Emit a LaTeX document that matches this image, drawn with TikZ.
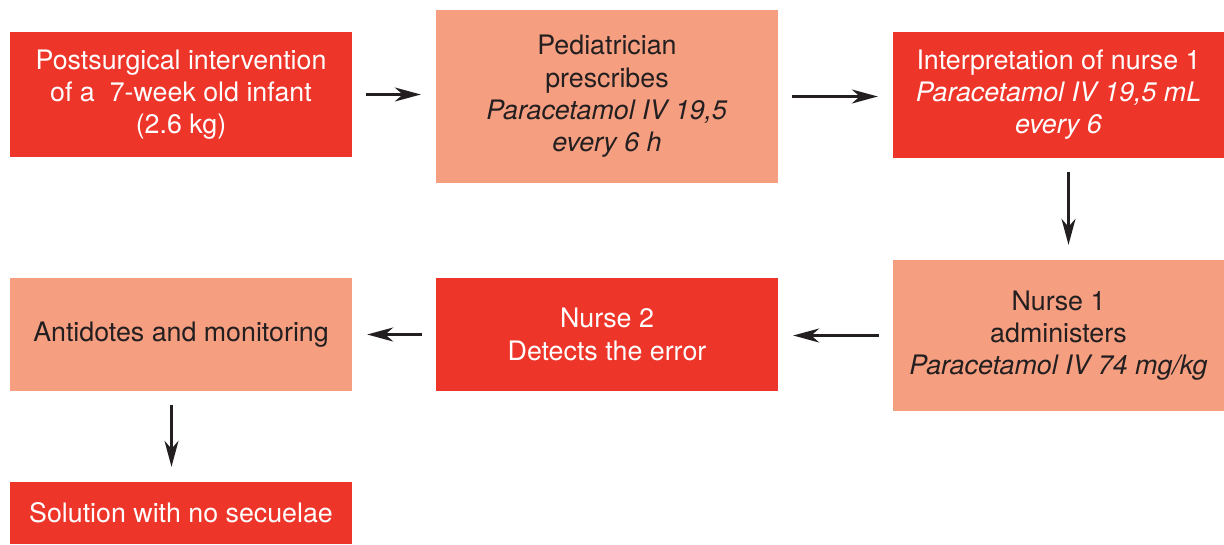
\documentclass[tikz,border=0pt]{standalone}
\usepackage{fontspec}
\setmainfont{TeX Gyre Heros}
\usepackage{tikz}
\usetikzlibrary{arrows.meta}
\definecolor{errred}{HTML}{EE3529}
\definecolor{salmon}{HTML}{F59E80}
\definecolor{inkgray}{HTML}{231F20}

\begin{document}
\begin{tikzpicture}
  [x=1pt,y=-1pt,
   every node/.style={inner sep=0pt, align=center, font=\fontsize{26.8}{32.3}\selectfont},
   redbox/.style={fill=errred, text=white},
   pinkbox/.style={fill=salmon, text=inkgray},
   arr/.style={-{Stealth[length=26pt,width=14pt,inset=8pt]}, line width=2.6pt, draw=inkgray,
               shorten <=14pt, shorten >=15pt}]
  \useasboundingbox (0,0) rectangle (1224,544);

  \node[redbox, minimum width=342pt, minimum height=125pt] (n1) at (181,94.5)
    {Postsurgical intervention\\of a~ 7-week old infant\\(2.6 kg)};
  \node[pinkbox, minimum width=342pt, minimum height=173pt] (n2) at (607,96.5)
    {Pediatrician\\prescribes\\\textit{Paracetamol IV 19,5}\\\textit{every 6 h}};
  \node[redbox, minimum width=331pt, minimum height=126pt] (n3) at (1058.5,94.5)
    {Interpretation of nurse 1\\\textit{Paracetamol IV 19,5 mL}\\\textit{every 6}};
  \node[pinkbox, minimum width=331pt, minimum height=151pt] (n4) at (1058.5,335.5)
    {Nurse 1\\administers\\\textit{Paracetamol IV 74 mg/kg}};
  \node[redbox, minimum width=342pt, minimum height=113pt] (n5) at (607,334.5)
    {Nurse 2\\Detects the error};
  \node[pinkbox, minimum width=342pt, minimum height=113pt] (n6) at (181,334.5)
    {Antidotes and monitoring};
  \node[redbox, minimum width=342pt, minimum height=62pt] (n7) at (181,513)
    {Solution with no secuelae};

  \foreach \from/\to in {n1.east/n2.west,n2.east/n3.west,n4.west/n5.east,n5.west/n6.east}
    \draw[arr] (\from) -- (\to |- \from);

  \draw[arr] ([xshift=10pt]n3.south) -- ([xshift=10pt]n4.north);
  \draw[arr] ([xshift=-9.5pt]n6.south) -- ([xshift=-9.5pt]n7.north);

\end{tikzpicture}
\end{document}
